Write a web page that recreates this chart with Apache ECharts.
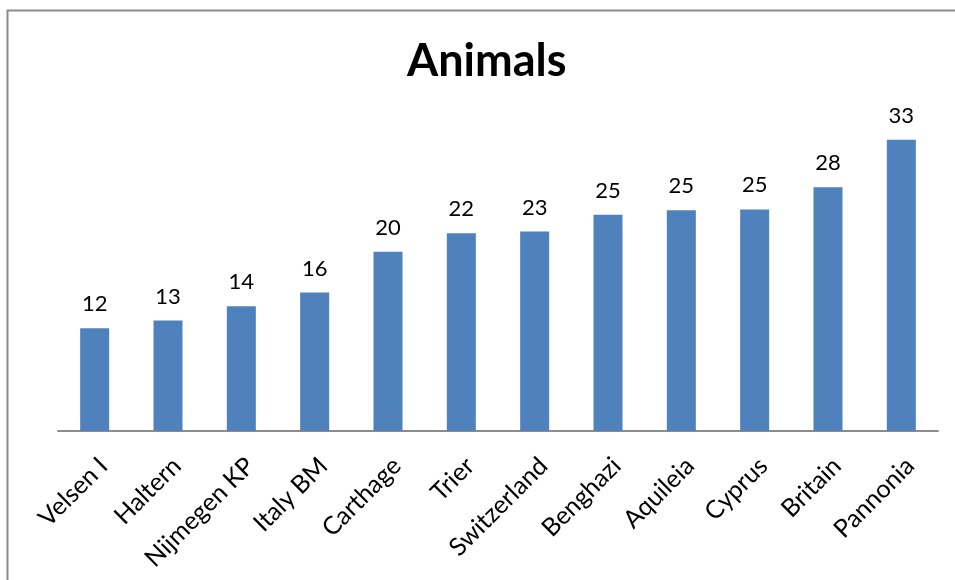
<!DOCTYPE html>
<html>
<head>
<meta charset="utf-8">
<script src="https://cdn.jsdelivr.net/npm/echarts@6/dist/echarts.min.js"></script>
<style>
  html, body { margin: 0; padding: 0; background: #fff; }
  #chart { width: 955px; height: 580px; }
</style>
</head>
<body>
<div id="chart"></div>
<script>
// Sites along the x axis
const categories = ['Velsen I', 'Haltern', 'Nijmegen KP', 'Italy BM', 'Carthage', 'Trier',
  'Switzerland', 'Benghazi', 'Aquileia', 'Cyprus', 'Britain', 'Pannonia'];
// Animal counts per site (labels show the rounded value)
const animals = [11.65, 12.52, 14.14, 15.69, 20.3, 22.4, 22.6, 24.5, 25.0, 25.1, 27.6, 33.0];

const chart = echarts.init(document.getElementById('chart'));
chart.setOption({
  animation: false,
  backgroundColor: '#ffffff',
  title: {
    text: 'Animals',
    left: 402,
    top: 34,
    textStyle: { fontFamily: 'Lato', fontWeight: 'bold', fontSize: 45, color: '#000' }
  },
  graphic: [{
    type: 'rect',
    shape: { x: 7.5, y: 10.5, width: 1000, height: 1000 },
    style: { fill: 'none', stroke: '#8c8c8c', lineWidth: 2 },
    silent: true
  }],
  grid: { left: 58, right: 17, top: 122, bottom: 149 },
  xAxis: {
    type: 'category',
    data: categories,
    axisTick: { show: false },
    axisLine: { lineStyle: { color: '#8c8c8c', width: 2 } },
    axisLabel: {
      rotate: 45,
      interval: 0,
      margin: 22,
      verticalAlign: 'top',
      fontFamily: 'Lato',
      fontSize: 25,
      color: '#000'
    }
  },
  yAxis: {
    type: 'value',
    min: 0,
    max: 35,
    show: false,
    splitLine: { show: false }
  },
  series: [{
    type: 'bar',
    data: animals,
    barWidth: 29,
    itemStyle: { color: '#4f81bd' },
    label: {
      show: true,
      position: 'top',
      distance: 13,
      fontFamily: 'Lato',
      fontSize: 22,
      color: '#000',
      formatter: p => Math.round(p.value)
    }
  }]
});
</script>
</body>
</html>
